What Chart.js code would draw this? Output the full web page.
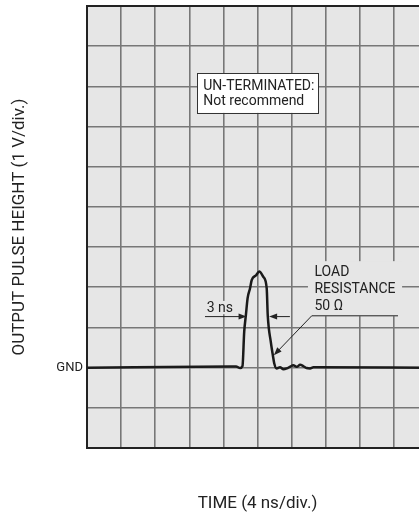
<!DOCTYPE html>
<html>
<head>
<meta charset="utf-8">
<script src="https://cdn.jsdelivr.net/npm/chart.js@4/dist/chart.umd.min.js"></script>
<style>
  html, body { margin: 0; padding: 0; background: #fff; overflow: hidden; }
</style>
</head>
<body>
<canvas id="scope" width="430" height="517"></canvas>
<script>
// time in divisions (4 ns/div), pulse height in divisions (1 V/div), GND = 0
const timeDiv = [0, 4.19, 4.37, 4.49, 4.56, 4.61, 4.66, 4.71, 4.78, 4.83, 4.96, 5.05, 5.17, 5.27, 5.30, 5.39, 5.45, 5.49, 5.56, 5.66, 5.76, 5.86, 5.95, 6.05, 6.15, 6.25, 6.34, 6.44, 6.54, 6.64, 6.74, 10]
const pulseDiv = [0, 0.03, 0.03, -0.01, 0.04, 0.89, 1.31, 1.73, 1.97, 2.18, 2.30, 2.39, 2.26, 1.97, 1.31, 0.64, 0.31, 0.11, -0.02, 0.01, -0.04, -0.02, 0.02, 0.06, 0.02, 0.07, 0.04, -0.01, -0.02, 0.01, 0.01, 0]
const yTickLabels = { 0: 'GND' }

const FONT = 'Roboto'
const BG = '#e6e6e6'
const INK = '#222'

const drawArrow = (ctx, x1, y1, x2, y2) => {
  // line from (x1,y1) with filled head at (x2,y2)
  const a = Math.atan2(y2 - y1, x2 - x1)
  const len = 8
  const hw = 3
  ctx.beginPath()
  ctx.moveTo(x1, y1)
  ctx.lineTo(x2 - Math.cos(a) * len * 0.8, y2 - Math.sin(a) * len * 0.8)
  ctx.stroke()
  ctx.beginPath()
  ctx.moveTo(x2, y2)
  ctx.lineTo(x2 - Math.cos(a) * len - Math.sin(a) * hw, y2 - Math.sin(a) * len + Math.cos(a) * hw)
  ctx.lineTo(x2 - Math.cos(a) * len + Math.sin(a) * hw, y2 - Math.sin(a) * len - Math.cos(a) * hw)
  ctx.closePath()
  ctx.fill()
}

const scopePlugin = {
  id: 'scope',
  beforeDraw(chart) {
    const { ctx, chartArea: a } = chart
    ctx.save()
    ctx.fillStyle = BG
    ctx.fillRect(a.left, a.top, a.right - a.left, a.bottom - a.top)
    ctx.restore()
  },
  beforeDatasetsDraw(chart) {
    const { ctx, chartArea: a, scales } = chart
    const px = (v) => scales.x.getPixelForValue(v)
    const py = (v) => scales.y.getPixelForValue(v)
    ctx.save()
    // top frame line
    ctx.strokeStyle = INK
    ctx.lineWidth = 2
    ctx.beginPath()
    ctx.moveTo(a.left - 1, a.top)
    ctx.lineTo(a.right, a.top)
    ctx.stroke()
    // masks behind labels
    ctx.fillStyle = BG
    ctx.fillRect(px(6.48), py(2.65), px(9.24) - px(6.48), py(1.28) - py(2.65))
    ctx.fillRect(px(3.46), py(1.66), px(4.31) - px(3.46), py(1.33) - py(1.66))
    ctx.restore()
  },
  afterDatasetsDraw(chart) {
    const { ctx, scales } = chart
    const px = (v) => scales.x.getPixelForValue(v)
    const py = (v) => scales.y.getPixelForValue(v)
    ctx.save()
    ctx.font = `14px ${FONT}`
    ctx.textBaseline = 'alphabetic'
    ctx.textAlign = 'left'

    // un-terminated box
    const bx = px(3.23), by = py(7.33)
    const bw = px(6.78) - bx, bh = py(6.34) - by
    ctx.fillStyle = '#fff'
    ctx.fillRect(bx, by, bw, bh)
    ctx.strokeStyle = '#333'
    ctx.lineWidth = 1
    ctx.strokeRect(Math.round(bx) + 0.5, Math.round(by) + 0.5, Math.round(bw), Math.round(bh))
    ctx.fillStyle = INK
    ctx.fillText('UN-TERMINATED:', px(3.41), py(6.90))
    ctx.fillText('Not recommend', px(3.41), py(6.53))

    // load resistance label
    ctx.fillText('LOAD', px(6.67), py(2.27))
    ctx.fillText('RESISTANCE', px(6.67), py(1.85))
    ctx.fillText('50 Ω', px(6.67), py(1.43))
    ctx.strokeStyle = INK
    ctx.lineWidth = 1
    ctx.beginPath()
    ctx.moveTo(px(6.59), py(1.29))
    ctx.lineTo(px(9.12), py(1.29))
    ctx.stroke()
    drawArrow(ctx, px(6.59), py(1.29), px(5.48), py(0.31))

    // pulse width
    ctx.fillText('3 ns', px(3.51), py(1.38))
    drawArrow(ctx, px(3.46), py(1.27), px(4.68), py(1.27))
    drawArrow(ctx, px(5.95), py(1.27), px(5.34), py(1.27))
    ctx.restore()
  },
}

new Chart(document.getElementById('scope'), {
  type: 'line',
  data: {
    datasets: [
      {
        data: timeDiv.map((t, i) => ({ x: t, y: pulseDiv[i] })),
        borderColor: '#1a1a1a',
        borderWidth: 2.5,
        pointRadius: 0,
        cubicInterpolationMode: 'monotone',
        fill: false,
      },
    ],
  },
  options: {
    responsive: false,
    animation: false,
    events: [],
    layout: { padding: { left: 8, top: 6, right: 2, bottom: 0 } },
    plugins: { legend: { display: false }, tooltip: { enabled: false } },
    scales: {
      x: {
        type: 'linear',
        min: 0,
        max: 10,
        afterFit(scale) {
          scale.height = 69
        },
        ticks: { display: false, stepSize: 1 },
        grid: { color: '#777', lineWidth: 1.6, drawTicks: false },
        border: { display: true, color: INK, width: 2 },
        title: {
          display: true,
          text: 'TIME (4 ns/div.)',
          color: INK,
          font: { family: FONT, size: 17 },
          padding: { top: 0, bottom: 3 },
        },
      },
      y: {
        type: 'linear',
        min: -2,
        max: 9,
        afterFit(scale) {
          scale.width = 79
          scale.paddingTop = 0
          scale.paddingBottom = 0
        },
        ticks: {
          stepSize: 1,
          padding: 4,
          color: INK,
          font: { family: FONT, size: 13 },
          callback: (v) => yTickLabels[v] || '',
        },
        grid: { color: '#777', lineWidth: 1.6, drawTicks: false },
        border: { display: true, color: INK, width: 2 },
        title: {
          display: true,
          text: 'OUTPUT PULSE HEIGHT (1 V/div.)',
          color: INK,
          font: { family: FONT, size: 17 },
          padding: { top: 2, bottom: 0 },
        },
      },
    },
  },
  plugins: [scopePlugin],
})
</script>
</body>
</html>
